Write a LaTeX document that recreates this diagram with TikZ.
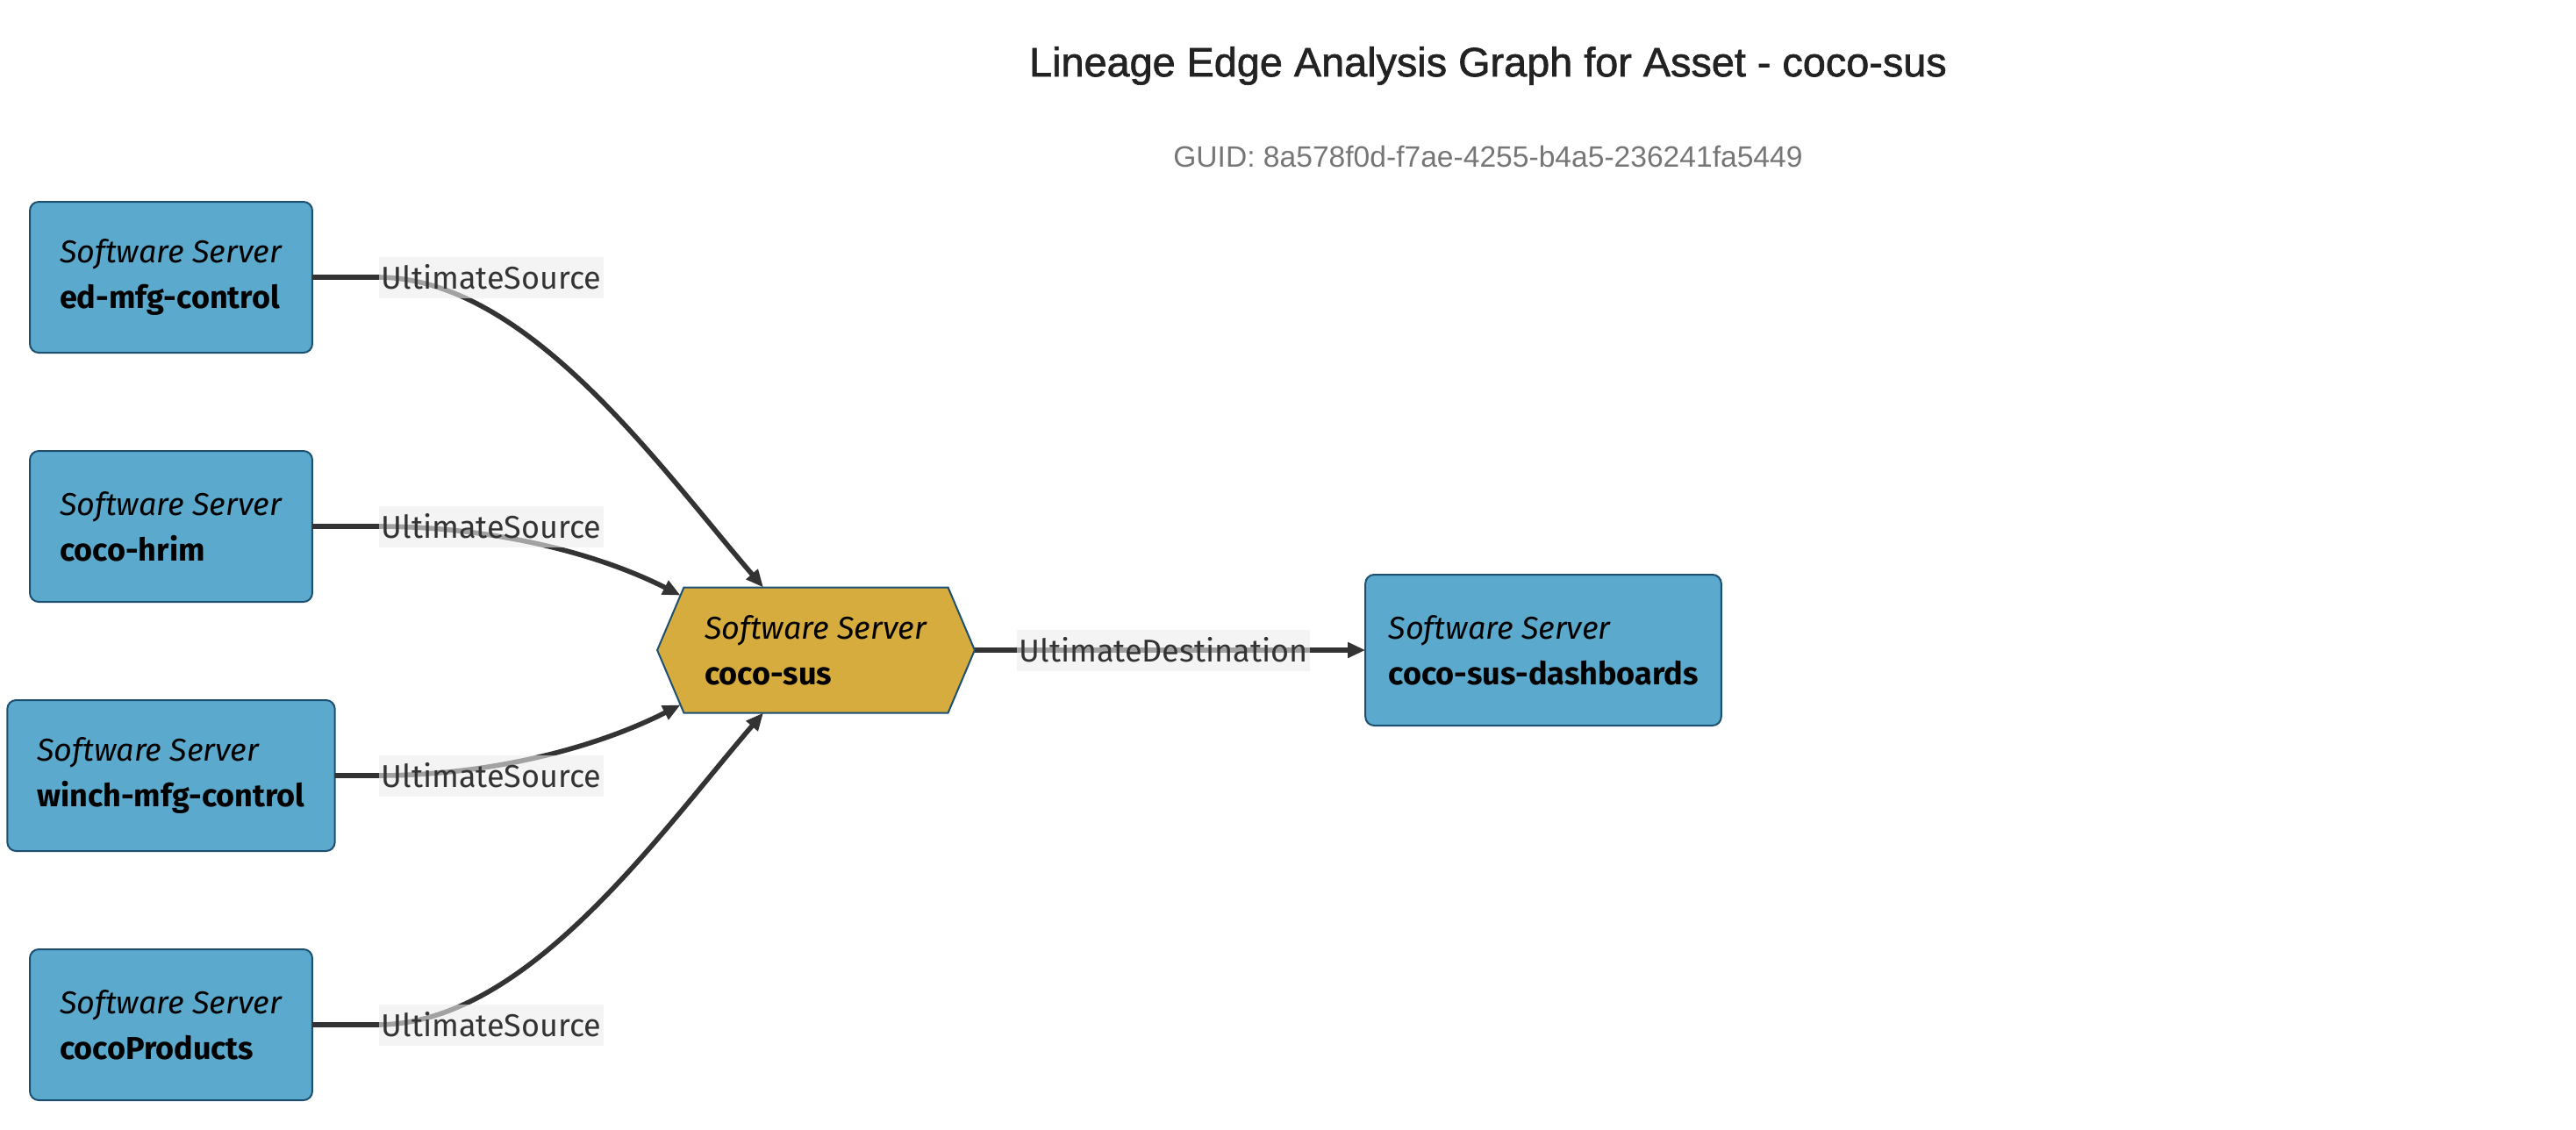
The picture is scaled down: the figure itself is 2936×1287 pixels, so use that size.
\documentclass[tikz,border=0pt]{standalone}
\usepackage{fontspec}
\setmainfont{Fira Sans}
\newfontfamily\headfont[FakeBold=1.4]{Liberation Sans}
\newfontfamily\guidfont{Liberation Sans}
\usetikzlibrary{shapes.symbols,arrows.meta}
\definecolor{serverblue}{HTML}{5BA9CC}
\definecolor{serveredge}{HTML}{1D4F73}
\definecolor{assetgold}{HTML}{D6AC3E}
\definecolor{linkgray}{HTML}{333333}
\definecolor{labelbg}{HTML}{EDEDED}
\definecolor{guidgray}{HTML}{767676}
\definecolor{titleblack}{HTML}{222222}

\begin{document}
\begin{tikzpicture}[x=0.25pt,y=-0.25pt,every node/.style={outer sep=0pt}]
\useasboundingbox (0,0) rectangle (2936,1287);

\tikzstyle{server}=[draw=serveredge,line width=0.5pt,fill=serverblue,rounded corners=2.5pt,align=left,inner xsep=8.5pt,minimum height=43pt,font=\fontsize{9}{13}\selectfont]
\tikzstyle{asset}=[server,shape=signal,signal to=west and east,signal pointer angle=134,fill=assetgold,sharp corners,inner xsep=5.9pt,minimum height=35.75pt]
\tikzstyle{lineage}=[draw=linkgray,line width=1.4pt,-{Triangle[length=5pt,width=4.2pt]}]
\tikzstyle{edgelabel}=[fill=labelbg,fill opacity=0.6,text opacity=1,text=linkgray,inner xsep=0.6pt,inner ysep=0pt,minimum height=11.75pt,font=\fontsize{9}{10}\selectfont]

% heading
\node (title) [text=titleblack,font=\headfont\fontsize{11.7}{14}\selectfont] at (1696,75) {Lineage Edge Analysis Graph for Asset - coco-sus};
\node (guid) [text=guidgray,font=\guidfont\fontsize{8.4}{10}\selectfont] at (1696,178) {GUID: 8a578f0d-f7ae-4255-b4a5-236241fa5449};

% servers
\foreach \name/\txt/\y in {ed/ed-mfg-control/316,hrim/coco-hrim/600,winch/winch-mfg-control/884,products/cocoProducts/1168}
    \node (\name) [server] at (195,\y) {\textit{Software Server}\\\textbf{\txt}};
\node (sus) [asset] at (930,741) {\textit{Software Server}\\\textbf{coco-sus}};
\node (dash) [server,inner xsep=6.6pt] at (1759,741) {\textit{Software Server}\\\textbf{coco-sus-dashboards}};

% lineage edges
\draw[lineage] (ed.east) -- (430,316) .. controls (600,316) and (750,530) .. (sus.130);
\draw[lineage] (hrim.east) -- (430,600) .. controls (560,600) and (680,630) .. (sus.158);
\draw[lineage] (winch.east) -- (430,884) .. controls (560,884) and (680,852) .. (sus.202);
\draw[lineage] (products.east) -- (430,1168) .. controls (600,1168) and (750,952) .. (sus.230);
\draw[lineage] (sus.east) -- (dash.west);

% labels
\foreach \y in {316,600,884,1168}
    \node (src\y) [edgelabel] at (560,\y) {UltimateSource};
\node (dest) [edgelabel] at (1326,741) {UltimateDestination};
\end{tikzpicture}
\end{document}
